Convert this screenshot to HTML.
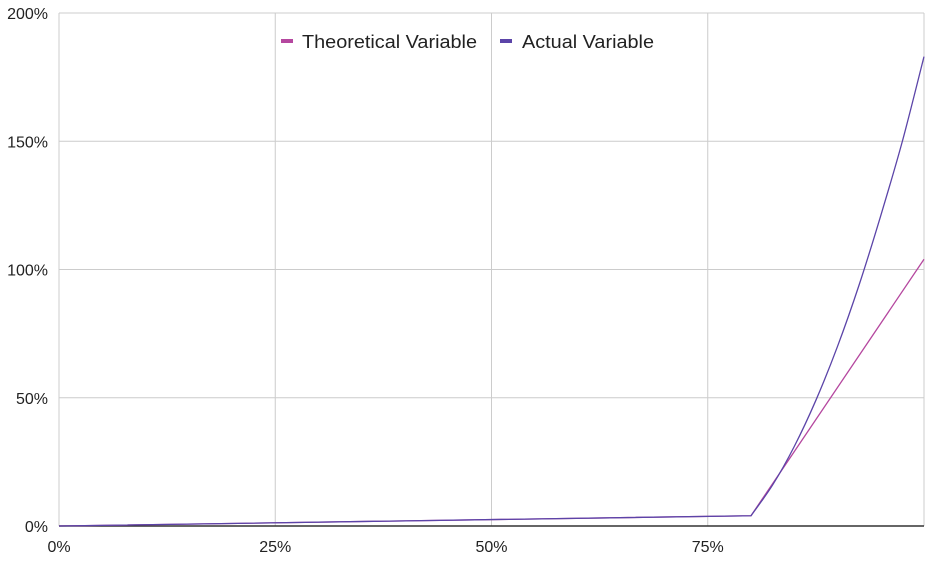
<!DOCTYPE html>
<html><head><meta charset="utf-8"><style>
html,body{margin:0;padding:0;background:#fff;}
svg text{font-family:"Liberation Sans",Arial,sans-serif;}
</style></head><body>
<svg id="chart" width="934" height="557" xmlns="http://www.w3.org/2000/svg">
<g id="grid"></g>
<g id="yaxis"></g>
<g id="xaxis"></g>
<g id="series"></g>
<g>
 <g>
  <rect x="281" y="39" width="12" height="4" fill="#b5479f"/>
  <text x="302" y="48" font-size="18" fill="#222" textLength="175" lengthAdjust="spacingAndGlyphs">Theoretical Variable</text>
 </g>
 <g>
  <rect x="500" y="39" width="12" height="4" fill="#5b44a8"/>
  <text x="522" y="48" font-size="18" fill="#222" textLength="132" lengthAdjust="spacingAndGlyphs">Actual Variable</text>
 </g>
</g>
</svg>
<script>
const xTicks=[0,25,50,75];
const xTickLabels=["0%","25%","50%","75%"];
const yTicks=[0,50,100,150,200];
const yTickLabels=["0%","50%","100%","150%","200%"];
const theoX=[0,80,100];
const theoY=[0,4,104];
const actX=[0,80,82.5,85,87.5,90,92.5,95,97.5,100];
const actY=[0,4,16,31,49,70,94,121,150,183];

const L=59,R=924,T=13,B=526;
const sx=v=>L+(v/100)*(R-L);
const sy=v=>B-(v/200)*(B-T);
const NS="http://www.w3.org/2000/svg";
function mk(tag,attrs,parent){const e=document.createElementNS(NS,tag);for(const k in attrs)e.setAttribute(k,attrs[k]);parent.appendChild(e);return e;}
const grid=document.getElementById('grid'),ya=document.getElementById('yaxis'),xa=document.getElementById('xaxis'),se=document.getElementById('series');
yTicks.forEach((t,i)=>{
  if(t>0){const g=mk('line',{x1:L,x2:R,y1:sy(t),y2:sy(t),stroke:'#cccccc','stroke-width':1},grid);
  
  }
  const tx=mk('text',{x:48,y:sy(t)+6,'text-anchor':'end','font-size':16,fill:'#222'},ya);
  tx.textContent=yTickLabels[i];
  
  
});
xTicks.concat([100]).forEach(t=>{
  const g=mk('line',{x1:sx(t),x2:sx(t),y1:T,y2:B,stroke:'#cccccc','stroke-width':1},grid);
  
  
});
xTicks.forEach((t,i)=>{
  const tx=mk('text',{x:sx(t),y:552,'text-anchor':'middle','font-size':16,fill:'#222'},xa);
  tx.textContent=xTickLabels[i];
  
  
});
const base=mk('line',{x1:L,x2:R,y1:B,y2:B,stroke:'#333','stroke-width':1.5},xa);


function pathD(xs,ys,smooth){
  const P=xs.map((x,i)=>[sx(x),sy(ys[i])]);
  let d='M'+P[0][0]+','+P[0][1];
  for(let i=0;i<P.length-1;i++){
    const p0=P[i],p1=P[i+1];
    if(!smooth||i<1){d+=' L'+p1[0]+','+p1[1];continue;}
    const pm=i>=2?P[i-1]:p0,p2=P[i+2]||p1;
    const c1=[p0[0]+(p1[0]-pm[0])/6,p0[1]+(p1[1]-pm[1])/6];
    const c2=[p1[0]-(p2[0]-p0[0])/6,p1[1]-(p2[1]-p0[1])/6];
    d+=' C'+c1[0]+','+c1[1]+' '+c2[0]+','+c2[1]+' '+p1[0]+','+p1[1];
  }
  return d;
}
function line(xs,ys,color,name,smooth){
  const p=mk('path',{d:pathD(xs,ys,smooth),fill:'none',stroke:color,'stroke-width':1.3,'stroke-linejoin':'round'},se);
  
  
}
line(theoX,theoY,'#b5479f','theoretical-line',false);
line(actX,actY,'#5b44a8','actual-line',true);
</script>
</body></html>
